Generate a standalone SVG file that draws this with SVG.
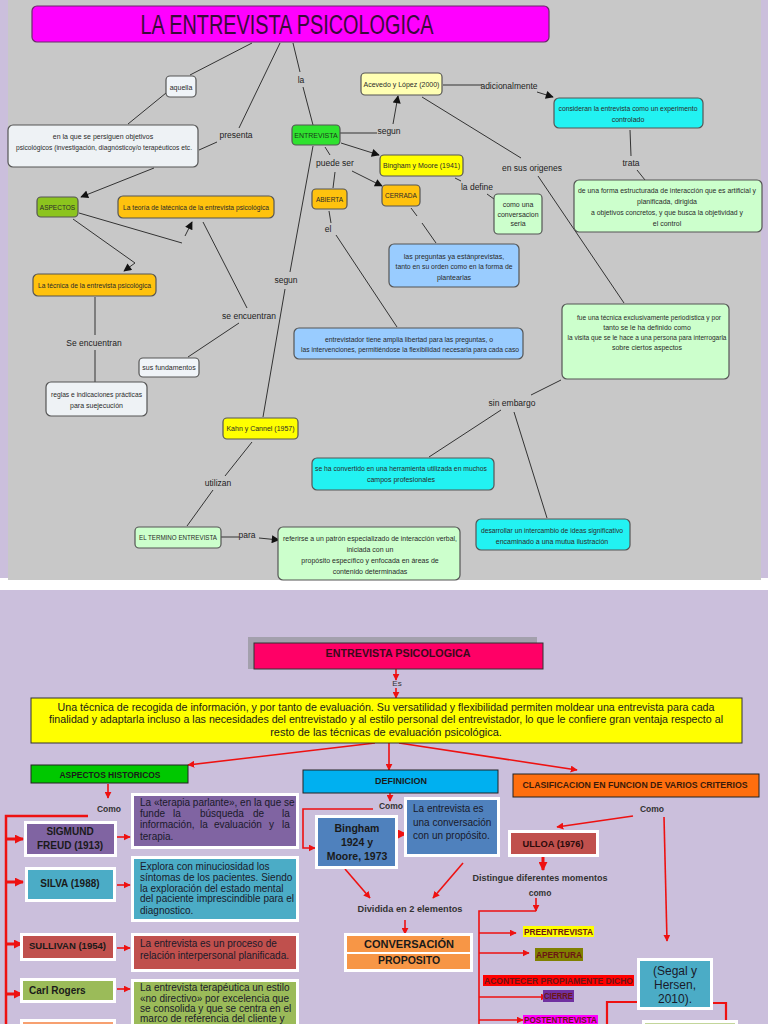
<svg xmlns="http://www.w3.org/2000/svg" width="768" height="1024" viewBox="0 0 768 1024">
<style>
.t{font-family:"Liberation Sans",Arial,sans-serif;font-size:7px;fill:#2a2a2a;text-anchor:middle}
.l{font-family:"Liberation Sans",Arial,sans-serif;font-size:8.5px;fill:#222;text-anchor:middle}
.n{stroke:#555;stroke-width:1.2}
.c{stroke:#333;stroke-width:1;fill:none}
.r{stroke:#ee1111;stroke-width:1.6;fill:none}
.rt{stroke:#ee1111;stroke-width:3;fill:none}
.b{font-family:"Liberation Sans",Arial,sans-serif;font-weight:bold;fill:#1a1a1a;text-anchor:middle}
.p{font-family:"Liberation Sans",Arial,sans-serif;font-size:10px;fill:#1a1a2a}
.w{stroke:#fff;stroke-width:3}
.k{font-family:"Liberation Sans",Arial,sans-serif;font-weight:bold;font-size:8.5px;fill:#333;text-anchor:middle}
.h{font-family:"Liberation Sans",Arial,sans-serif;font-weight:bold;font-size:8.5px;fill:#6b1515;text-anchor:middle}
</style>
<defs>
<marker id="ah" viewBox="0 0 10 10" refX="9" refY="5" markerUnits="userSpaceOnUse" markerWidth="9" markerHeight="8" orient="auto"><path d="M0,0L10,5L0,10z" fill="#111"/></marker>
<marker id="rh" viewBox="0 0 10 10" refX="9" refY="5" markerUnits="userSpaceOnUse" markerWidth="7" markerHeight="7" orient="auto"><path d="M0,0L10,5L0,10z" fill="#ee1111"/></marker>
<marker id="rh2" viewBox="0 0 10 10" refX="9" refY="5" markerUnits="userSpaceOnUse" markerWidth="9" markerHeight="9" orient="auto"><path d="M0,0L10,5L0,10z" fill="#ee1111"/></marker>
</defs>
<rect x="0" y="0" width="768" height="1024" fill="#cbbfdc"/>
<rect x="0" y="578" width="768" height="12" fill="#ffffff"/>
<rect x="8" y="0" width="753" height="580" fill="#c8c8c8"/>

<g id="connectors-top">
<line class="c" x1="252" y1="43" x2="190" y2="75"/>
<line class="c" x1="166" y1="93" x2="128" y2="124"/>
<line class="c" x1="280" y1="43" x2="239" y2="128"/>
<line class="c" x1="217" y1="142" x2="199" y2="150"/>
<line class="c" x1="154" y1="168" x2="81" y2="197" marker-end="url(#ah)"/>
<line class="c" x1="293" y1="43" x2="300" y2="72"/>
<line class="c" x1="303" y1="87" x2="313" y2="125"/>
<line class="c" x1="340" y1="133" x2="377" y2="133"/>
<line class="c" x1="393" y1="124" x2="398" y2="96" marker-end="url(#ah)"/>
<line class="c" x1="443" y1="85" x2="482" y2="85"/>
<line class="c" x1="537" y1="92" x2="553" y2="97" marker-end="url(#ah)"/>
<line class="c" x1="630" y1="130" x2="631" y2="156"/>
<line class="c" x1="637" y1="170" x2="645" y2="180"/>
<line class="c" x1="341" y1="143" x2="379" y2="155" marker-end="url(#ah)"/>
<line class="c" x1="325" y1="147" x2="330" y2="155"/>
<line class="c" x1="335" y1="172" x2="333" y2="188"/>
<line class="c" x1="352" y1="171" x2="382" y2="186" marker-end="url(#ah)"/>
<line class="c" x1="455" y1="178" x2="461" y2="181"/>
<line class="c" x1="487" y1="194" x2="494" y2="199"/>
<line class="c" x1="411" y1="208" x2="417" y2="216"/>
<line class="c" x1="422" y1="223" x2="436" y2="243"/>
<line class="c" x1="329" y1="211" x2="331" y2="223"/>
<line class="c" x1="336" y1="235" x2="397" y2="327"/>
<line class="c" x1="313" y1="146" x2="290" y2="272"/>
<line class="c" x1="285" y1="289" x2="263" y2="417"/>
<line class="c" x1="79" y1="213" x2="182" y2="243"/>
<line class="c" x1="185" y1="236" x2="192" y2="222" marker-end="url(#ah)"/>
<line class="c" x1="73" y1="219" x2="135" y2="263"/>
<line class="c" x1="135" y1="263" x2="124" y2="271" marker-end="url(#ah)"/>
<line class="c" x1="95" y1="297" x2="95" y2="335"/>
<line class="c" x1="95" y1="350" x2="95" y2="382"/>
<line class="c" x1="203" y1="222" x2="247" y2="308"/>
<line class="c" x1="239" y1="323" x2="188" y2="357"/>
<line class="c" x1="422" y1="97" x2="521" y2="158"/>
<line class="c" x1="538" y1="176" x2="624" y2="303"/>
<line class="c" x1="561" y1="380" x2="531" y2="395"/>
<line class="c" x1="501" y1="410" x2="429" y2="457"/>
<line class="c" x1="514" y1="412" x2="547" y2="518"/>
<line class="c" x1="252" y1="442" x2="225" y2="476"/>
<line class="c" x1="213" y1="490" x2="187" y2="526"/>
<line class="c" x1="221" y1="537" x2="239" y2="537"/>
<line class="c" x1="259" y1="538" x2="279" y2="540" marker-end="url(#ah)"/>
</g>

<g id="labels-top">
<text class="l" x="236" y="138">presenta</text>
<text class="l" x="301" y="83">la</text>
<text class="l" x="389" y="134">segun</text>
<text class="l" x="509" y="89">adicionalmente</text>
<text class="l" x="631" y="166">trata</text>
<text class="l" x="335" y="166">puede ser</text>
<text class="l" x="477" y="190">la define</text>
<text class="l" x="532" y="171">en sus origenes</text>
<text class="l" x="328" y="232">el</text>
<text class="l" x="286" y="283">segun</text>
<text class="l" x="249" y="319">se encuentran</text>
<text class="l" x="94" y="346">Se encuentran</text>
<text class="l" x="512" y="406">sin embargo</text>
<text class="l" x="218" y="486">utilizan</text>
<text class="l" x="247" y="538">para</text>
</g>

<g id="title-top">
<rect x="32" y="6" width="517" height="36" rx="5" fill="#ff00ff" stroke="#6a2a6a" stroke-width="1.2"/>
<text x="287" y="34" font-family="Liberation Sans,Arial,sans-serif" font-size="27" fill="#3a0a3a" text-anchor="middle" textLength="293" lengthAdjust="spacingAndGlyphs">LA ENTREVISTA PSICOLOGICA</text>
</g>
<g id="n-aquella"><rect class="n" x="166" y="76" width="30" height="21" rx="4" fill="#f0f4f8"/><text class="t" x="181" y="89.5">aquella</text></g>
<g id="n-enlaque"><rect class="n" x="8" y="125" width="190" height="42" rx="5" fill="#eef2f5"/>
<text class="t" x="103" y="138.5">en la que se persiguen objetivos</text>
<text class="t" x="104" y="149.5" textLength="176" lengthAdjust="spacingAndGlyphs">psicológicos (investigación, diagnósticoy/o terapéuticos etc.</text></g>
<g id="n-entrevista"><rect class="n" x="292" y="125" width="48" height="20" rx="4" fill="#2fe22f"/><text class="t" x="316" y="137.5" style="fill:#1a3a1a">ENTREVISTA</text></g>
<g id="n-acevedo"><rect class="n" x="361" y="73" width="81" height="22" rx="4" fill="#ffffb3"/><text class="t" x="401.5" y="86.5">Acevedo y López (2000)</text></g>
<g id="n-consideran"><rect class="n" x="554" y="98" width="149" height="30" rx="5" fill="#22f2f2"/>
<text class="t" x="628" y="110.5" textLength="139" lengthAdjust="spacingAndGlyphs">consideran la entrevista como un experimento</text>
<text class="t" x="628" y="121.5">controlado</text></g>
<g id="n-deunaforma"><rect class="n" x="574" y="180" width="188" height="52" rx="5" fill="#ccffcc"/>
<text class="t" x="667" y="192.5" textLength="178" lengthAdjust="spacingAndGlyphs">de una forma estructurada de interacción que es artificial y</text>
<text class="t" x="667" y="203.5">planificada, dirigida</text>
<text class="t" x="667" y="214.5" textLength="152" lengthAdjust="spacingAndGlyphs">a objetivos concretos, y que busca la objetividad y</text>
<text class="t" x="667" y="225.5">el control</text></g>
<g id="n-bingham41"><rect class="n" x="380" y="155" width="83" height="21" rx="4" fill="#ffff00"/><text class="t" x="421.5" y="168">Bingham y Moore (1941)</text></g>
<g id="n-abierta"><rect class="n" x="312" y="189" width="35" height="20" rx="4" fill="#ffc20e"/><text class="t" x="329.5" y="201.5" style="font-size:6.5px">ABIERTA</text></g>
<g id="n-cerrada"><rect class="n" x="382" y="185" width="38" height="21" rx="4" fill="#ffc20e"/><text class="t" x="401" y="198" style="font-size:6.5px">CERRADA</text></g>
<g id="n-comouna"><rect class="n" x="494" y="194" width="48" height="40" rx="4" fill="#ccffcc"/>
<text class="t" x="518" y="207">como una</text><text class="t" x="518" y="216.5">conversacion</text><text class="t" x="518" y="226">seria</text></g>
<g id="n-preguntas"><rect class="n" x="389" y="244" width="130" height="43" rx="5" fill="#99ccff"/>
<text class="t" x="454" y="258.5">las preguntas ya estánprevistas,</text>
<text class="t" x="454" y="268.5" textLength="117" lengthAdjust="spacingAndGlyphs">tanto en su orden como en la forma de</text>
<text class="t" x="454" y="279.5">plantearlas</text></g>
<g id="n-entrevistador"><rect class="n" x="294" y="328" width="229" height="31" rx="5" fill="#99ccff"/>
<text class="t" x="409" y="341.5" textLength="168" lengthAdjust="spacingAndGlyphs">entrevistador tiene amplia libertad para las preguntas, o</text>
<text class="t" x="410" y="351.5" textLength="218" lengthAdjust="spacingAndGlyphs">las intervenciones, permitiéndose la flexibilidad necesaria para cada caso</text></g>
<g id="n-aspectos"><rect class="n" x="37" y="197" width="41" height="20" rx="4" fill="#8cc41e"/><text class="t" x="57.5" y="209.5" style="font-size:6.5px">ASPECTOS</text></g>
<g id="n-teoria"><rect class="n" x="118" y="196" width="156" height="22" rx="5" fill="#ffc20e"/><text class="t" x="196" y="209.5" textLength="146" lengthAdjust="spacingAndGlyphs">La teoría de latécnica de la entrevista psicológica</text></g>
<g id="n-tecnica"><rect class="n" x="33" y="274" width="123" height="22" rx="5" fill="#ffc20e"/><text class="t" x="94.5" y="287.5" textLength="113" lengthAdjust="spacingAndGlyphs">La técnica de la entrevista psicológica</text></g>
<g id="n-reglas"><rect class="n" x="46" y="382" width="101" height="34" rx="5" fill="#eef2f5"/>
<text class="t" x="96.5" y="396.5" textLength="91" lengthAdjust="spacingAndGlyphs">reglas e indicaciones prácticas</text>
<text class="t" x="96.5" y="407.5">para suejecución</text></g>
<g id="n-fundamentos"><rect class="n" x="139" y="358" width="60" height="19" rx="4" fill="#f0f4f8"/><text class="t" x="169" y="370">sus fundamentos</text></g>
<g id="n-kahn"><rect class="n" x="223" y="418" width="75" height="21" rx="4" fill="#ffff00"/><text class="t" x="260.5" y="431">Kahn y Cannel (1957)</text></g>
<g id="n-termino"><rect class="n" x="135" y="527" width="86" height="21" rx="4" fill="#ccffcc"/><text class="t" x="178" y="540" textLength="78" lengthAdjust="spacingAndGlyphs">EL TERMINO ENTREVISTA</text></g>
<g id="n-referirse"><rect class="n" x="278" y="527" width="182" height="53" rx="5" fill="#ccffcc"/>
<text class="t" x="370" y="540.5" textLength="174" lengthAdjust="spacingAndGlyphs">referirse a un patrón especializado de interacción verbal,</text>
<text class="t" x="370" y="551.5">iniciada con un</text>
<text class="t" x="370" y="562.5">propósito específico y enfocada en áreas de</text>
<text class="t" x="370" y="573.5">contenido determinadas</text></g>
<g id="n-fueuna"><rect class="n" x="562" y="304" width="167" height="75" rx="5" fill="#ccffcc"/>
<text class="t" x="649" y="319.5" textLength="144" lengthAdjust="spacingAndGlyphs">fue una técnica exclusivamente periodística y por</text>
<text class="t" x="647" y="329.5">tanto se le ha definido como</text>
<text class="t" x="647" y="339.5" textLength="159" lengthAdjust="spacingAndGlyphs">la visita que se le hace a una persona para interrogarla</text>
<text class="t" x="647" y="349.5">sobre ciertos aspectos</text></g>
<g id="n-convertido"><rect class="n" x="312" y="458" width="182" height="32" rx="5" fill="#22f2f2"/>
<text class="t" x="401" y="470.5" textLength="172" lengthAdjust="spacingAndGlyphs">se ha convertido en una herramienta utilizada en muchos</text>
<text class="t" x="401" y="481.5">campos profesionales</text></g>
<g id="n-desarrollar"><rect class="n" x="476" y="519" width="154" height="31" rx="5" fill="#22f2f2"/>
<text class="t" x="552" y="532.5" textLength="142" lengthAdjust="spacingAndGlyphs">desarrollar un intercambio de ideas significativo</text>
<text class="t" x="552" y="544">encaminado a una mutua ilustración</text></g>

<g id="connectors-bottom">
<line class="r" x1="396" y1="669" x2="396" y2="680" marker-end="url(#rh)"/>
<line class="r" x1="396" y1="688" x2="396" y2="698" marker-end="url(#rh)"/>
<line class="r" x1="375" y1="743" x2="188" y2="765" marker-end="url(#rh)"/>
<line class="r" x1="389" y1="743" x2="389" y2="770" marker-end="url(#rh)"/>
<line class="r" x1="399" y1="743" x2="577" y2="770" marker-end="url(#rh)"/>
<line class="r" x1="108" y1="784" x2="108" y2="798" marker-end="url(#rh)"/>
<polyline class="r" style="stroke-width:2.5" points="88,816 6,816 6,1024"/>
<line class="rt" x1="6" y1="839" x2="23" y2="839" marker-end="url(#rh2)"/>
<line class="rt" x1="6" y1="882" x2="23" y2="882" marker-end="url(#rh2)"/>
<line class="rt" x1="6" y1="944" x2="22" y2="944" marker-end="url(#rh2)"/>
<line class="rt" x1="6" y1="994" x2="22" y2="994" marker-end="url(#rh2)"/>
<line class="r" x1="117" y1="837" x2="130" y2="837" marker-end="url(#rh)"/>
<line class="r" x1="117" y1="885" x2="130" y2="885" marker-end="url(#rh)"/>
<line class="r" x1="117" y1="948" x2="130" y2="948" marker-end="url(#rh)"/>
<line class="r" x1="117" y1="989" x2="130" y2="989" marker-end="url(#rh)"/>
<line class="r" x1="390" y1="793" x2="390" y2="801" marker-end="url(#rh)"/>
<polyline class="r" points="373,809 303,809 303,848 315,848" marker-end="url(#rh)"/>
<line class="rt" x1="397" y1="834" x2="406" y2="834" marker-end="url(#rh2)"/>
<line class="r" x1="345" y1="869" x2="370" y2="898" marker-end="url(#rh)"/>
<line class="r" x1="463" y1="863" x2="433" y2="898" marker-end="url(#rh)"/>
<line class="r" x1="405" y1="920" x2="405" y2="934" marker-end="url(#rh)"/>
<line class="r" x1="633" y1="816" x2="557" y2="827" marker-end="url(#rh)"/>
<line class="r" x1="664" y1="817" x2="667" y2="941" marker-end="url(#rh)"/>
<line class="rt" x1="543" y1="857" x2="543" y2="870" marker-end="url(#rh2)"/>
<line class="r" x1="536" y1="898" x2="536" y2="911" marker-end="url(#rh)"/>
<polyline class="r" points="536,911 479,911 479,1024"/>
<line class="r" x1="479" y1="933" x2="516" y2="933" marker-end="url(#rh)"/>
<line class="r" x1="479" y1="953" x2="529" y2="953" marker-end="url(#rh)"/>
<line class="r" x1="479" y1="997" x2="547" y2="997" marker-end="url(#rh)"/>
<line class="r" x1="479" y1="1020" x2="523" y2="1020" marker-end="url(#rh)"/>
<polyline class="r" style="stroke-width:2.2" points="637,1002 607,1002 607,1024"/>
<polyline class="r" style="stroke-width:2.2" points="713,1003 726,1003 726,1024"/>
</g>

<g id="labels-bottom">
<text x="397" y="686" font-family="Liberation Sans,Arial,sans-serif" font-size="8" fill="#333" text-anchor="middle">Es</text>
<text class="k" x="109" y="812">Como</text>
<text class="k" x="391" y="809">Como</text>
<text class="k" x="652" y="812">Como</text>
<text class="k" x="540" y="881" textLength="135" lengthAdjust="spacingAndGlyphs">Distingue diferentes momentos</text>
<text class="k" x="540" y="896">como</text>
<text class="k" x="410" y="912" textLength="105" lengthAdjust="spacingAndGlyphs">Dividida en 2 elementos</text>
</g>

<g id="b-title">
<rect x="248" y="637" width="289" height="32" fill="#a3a0ad"/>
<rect x="254" y="643" width="289" height="26" fill="#ff0066" stroke="#333" stroke-width="1"/>
<text class="b" x="398" y="656.5" font-size="10" textLength="145" lengthAdjust="spacingAndGlyphs" style="fill:#3a0a1a">ENTREVISTA PSICOLOGICA</text>
</g>
<g id="b-def-main">
<rect x="31" y="698" width="711" height="45" fill="#ffff00" stroke="#333" stroke-width="1"/>
<text x="386" y="710.5" font-family="Liberation Sans,Arial,sans-serif" font-size="11" fill="#1a1a1a" text-anchor="middle" textLength="657" lengthAdjust="spacingAndGlyphs">Una técnica de recogida de información, y por tanto de evaluación. Su versatilidad y flexibilidad permiten moldear una entrevista para cada</text>
<text x="386" y="723" font-family="Liberation Sans,Arial,sans-serif" font-size="11" fill="#1a1a1a" text-anchor="middle" textLength="674" lengthAdjust="spacingAndGlyphs">finalidad y adaptarla incluso a las necesidades del entrevistado y al estilo personal del entrevistador, lo que le confiere gran ventaja respecto al</text>
<text x="386" y="735.5" font-family="Liberation Sans,Arial,sans-serif" font-size="11" fill="#1a1a1a" text-anchor="middle">resto de las técnicas de evaluación psicológica.</text>
</g>
<g id="b-aspectos"><rect x="31" y="765" width="157" height="18" fill="#00c800" stroke="#222" stroke-width="1"/><text class="b" x="110" y="777.5" font-size="9" textLength="101" lengthAdjust="spacingAndGlyphs">ASPECTOS HISTORICOS</text></g>
<g id="b-definicion"><rect x="303" y="770" width="195" height="23" fill="#00b0f0" stroke="#222" stroke-width="1"/><text class="b" x="401" y="783.5" font-size="9" textLength="52" lengthAdjust="spacingAndGlyphs">DEFINICION</text></g>
<g id="b-clasif"><rect x="513" y="774" width="246" height="23" fill="#ff6e0e" stroke="#222" stroke-width="1"/><text class="b" x="635" y="788" font-size="9" textLength="225" lengthAdjust="spacingAndGlyphs" style="fill:#3a1a0a">CLASIFICACION EN FUNCION DE VARIOS  CRITERIOS</text></g>

<g id="b-freud"><rect class="w" x="25.5" y="822.5" width="90" height="33" fill="#8064a2"/>
<text class="b" x="70" y="834.5" font-size="10">SIGMUND</text><text class="b" x="70" y="848.5" font-size="10">FREUD (1913)</text></g>
<g id="b-freud-t"><rect class="w" x="132.5" y="794.5" width="165" height="53" fill="#8064a2"/>
<text class="p" x="140" y="805.5">La «terapia parlante», en la que se</text>
<text class="p" y="816.5"><tspan x="140">funde</tspan><tspan x="173">la</tspan><tspan x="200">búsqueda</tspan><tspan x="253">de</tspan><tspan x="282">la</tspan></text>
<text class="p" y="828"><tspan x="140">información,</tspan><tspan x="200">la</tspan><tspan x="214">evaluación</tspan><tspan x="269">y</tspan><tspan x="282">la</tspan></text>
<text class="p" x="140" y="839.5">terapia.</text></g>
<g id="b-silva"><rect class="w" x="26.5" y="868.5" width="88" height="32" fill="#4bacc6"/><text class="b" x="70" y="887" font-size="10">SILVA (1988)</text></g>
<g id="b-silva-t"><rect class="w" x="132.5" y="857.5" width="165" height="63" fill="#4bacc6"/>
<text class="p" x="140" y="869.5">Explora con minuciosidad los</text>
<text class="p" x="140" y="880.5">síntomas de los pacientes. Siendo</text>
<text class="p" x="140" y="891.5">la exploración del estado mental</text>
<text class="p" x="140" y="902">del paciente imprescindible para el</text>
<text class="p" x="140" y="913.5">diagnostico.</text></g>
<g id="b-sullivan"><rect class="w" x="21.5" y="934.5" width="93" height="25" fill="#c0504d"/><text class="b" x="29" y="948.5" font-size="9.5" style="text-anchor:start">SULLIVAN (1954)</text></g>
<g id="b-sullivan-t"><rect class="w" x="132.5" y="934.5" width="165" height="36" fill="#c0504d"/>
<text class="p" x="140" y="946.5">La entrevista es un proceso de</text>
<text class="p" x="140" y="959">relación interpersonal planificada.</text></g>
<g id="b-rogers"><rect class="w" x="21.5" y="979.5" width="93" height="22" fill="#9bbb59"/><text class="b" x="29" y="993.5" font-size="10" style="text-anchor:start">Carl Rogers</text></g>
<g id="b-rogers-t"><rect class="w" x="132.5" y="980.5" width="165" height="50" fill="#9bbb59"/>
<text class="p" x="140" y="991">La entrevista terapéutica un estilo</text>
<text class="p" x="140" y="1001.5">«no directivo» por excelencia que</text>
<text class="p" x="140" y="1012">se consolida y que se centra en el</text>
<text class="p" x="140" y="1022">marco de referencia del cliente y</text></g>
<g id="b-next"><rect class="w" x="21.5" y="1020.5" width="93" height="12" fill="#f7a070"/></g>

<g id="b-bingham"><rect class="w" x="316.5" y="816.5" width="80" height="51" fill="#4f81bd"/>
<text class="b" x="357" y="831.5" font-size="10.5">Bingham</text><text class="b" x="357" y="845.5" font-size="10.5">1924  y</text><text class="b" x="357" y="859.5" font-size="10.5">Moore, 1973</text></g>
<g id="b-conv-t"><rect class="w" x="405.5" y="798.5" width="93" height="57" fill="#4f81bd"/>
<text class="p" x="413" y="812">La entrevista es</text><text class="p" x="413" y="826">una conversación</text><text class="p" x="413" y="838.5">con un propósito.</text></g>
<g id="b-conversacion"><rect x="344" y="933" width="129" height="39" fill="#ffffff"/>
<rect x="347" y="954" width="123" height="15" fill="#f79646"/>
<text class="b" x="409" y="963.5" font-size="10.5">PROPOSITO</text>
<rect x="347" y="936" width="123" height="16" fill="#f79646"/>
<text class="b" x="409" y="948" font-size="11">CONVERSACIÓN</text></g>

<g id="b-ulloa"><rect class="w" x="509.5" y="831.5" width="88" height="24" fill="#c0504d"/><text class="b" x="553" y="846.5" font-size="9" textLength="61" lengthAdjust="spacingAndGlyphs" style="fill:#2a0a0a">ULLOA (1976)</text></g>
<g id="b-pre"><rect x="523" y="926" width="71" height="11" fill="#ffff00"/><text class="h" x="558.5" y="934.5" textLength="69" lengthAdjust="spacingAndGlyphs">PREENTREVISTA</text></g>
<g id="b-apertura"><rect x="535" y="948" width="48" height="13" fill="#808000"/><text class="h" x="559" y="957.5" textLength="46" lengthAdjust="spacingAndGlyphs">APERTURA</text></g>
<g id="b-acontecer"><rect x="483" y="975" width="151" height="11" fill="#ff0000"/><text class="h" x="558.5" y="983.5" textLength="149" lengthAdjust="spacingAndGlyphs">ACONTECER PROPIAMENTE DICHO</text></g>
<g id="b-cierre"><rect x="543" y="990" width="31" height="12" fill="#7030a0"/><text class="h" x="558.5" y="999" textLength="29" lengthAdjust="spacingAndGlyphs">CIERRE</text></g>
<g id="b-post"><rect x="523" y="1015" width="75" height="12" fill="#ff00ff"/><text class="h" x="560.5" y="1023" textLength="73" lengthAdjust="spacingAndGlyphs">POSTENTREVISTA</text></g>
<g id="b-segal"><rect class="w" x="638.5" y="959.5" width="73" height="49" fill="#4bacc6"/>
<text x="675" y="975" font-family="Liberation Sans,Arial,sans-serif" font-size="12" fill="#1a1a2a" text-anchor="middle">(Segal y</text>
<text x="675" y="989" font-family="Liberation Sans,Arial,sans-serif" font-size="12" fill="#1a1a2a" text-anchor="middle">Hersen,</text>
<text x="675" y="1003" font-family="Liberation Sans,Arial,sans-serif" font-size="12" fill="#1a1a2a" text-anchor="middle">2010).</text></g>
<g id="b-green-next"><rect class="w" x="643.5" y="1021.5" width="93" height="12" fill="#c3d69b"/></g>
</svg>
